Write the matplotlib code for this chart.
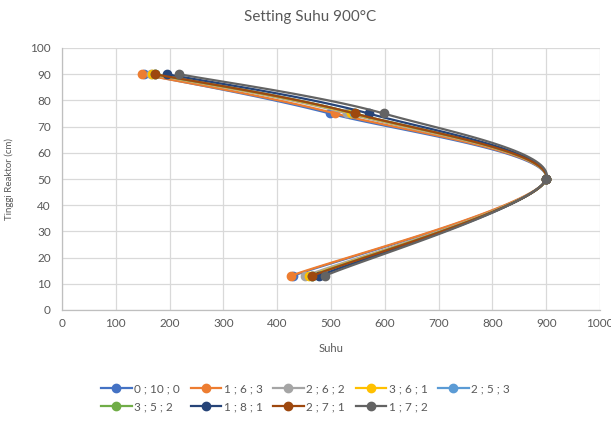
import numpy as np
import matplotlib.pyplot as plt

plt.rcParams['font.family'] = ['Lato', 'DejaVu Sans']

# komposisi (label legenda) dan warna tiap seri
komposisi = ['0 ; 10 ; 0', '1 ; 6 ; 3', '2 ; 6 ; 2', '3 ; 6 ; 1', '2 ; 5 ; 3',
             '3 ; 5 ; 2', '1 ; 8 ; 1', '2 ; 7 ; 1', '1 ; 7 ; 2']
warna = ['#4472C4', '#ED7D31', '#A5A5A5', '#FFC000', '#5B9BD5',
         '#70AD47', '#264478', '#9E480E', '#636363']

# tinggi titik ukur (cm)
tinggi = [90, 75, 50, 13]

# suhu (°C) di tiap titik ukur
suhu_0_10_0 = [152, 498, 900, 429]
suhu_1_6_3 = [148, 508, 900, 425]
suhu_2_6_2 = [165, 530, 900, 452]
suhu_3_6_1 = [168, 538, 900, 460]
suhu_2_5_3 = [172, 543, 900, 464]
suhu_3_5_2 = [173, 544, 900, 465]
suhu_1_8_1 = [195, 570, 900, 478]
suhu_2_7_1 = [173, 544, 900, 465]
suhu_1_7_2 = [218, 598, 900, 488]

semua_suhu = [suhu_0_10_0, suhu_1_6_3, suhu_2_6_2, suhu_3_6_1, suhu_2_5_3,
              suhu_3_5_2, suhu_1_8_1, suhu_2_7_1, suhu_1_7_2]


def garis_halus(x, y, n=40):
    # kurva bezier lewat tiap titik (seperti "smoothed line" di Excel)
    p = np.column_stack([x, y]).astype(float)
    q = np.vstack([p[0], p, p[-1]])
    t = np.linspace(0, 1, n)[1:, None]
    hasil = [p[0]]
    for i in range(1, len(q) - 2):
        a, b = q[i], q[i + 1]
        c1 = a + (q[i + 1] - q[i - 1]) / 6
        c2 = b - (q[i + 2] - q[i]) / 6
        seg = (1 - t)**3 * a + 3 * (1 - t)**2 * t * c1 + 3 * (1 - t) * t**2 * c2 + t**3 * b
        hasil.extend(seg)
    hasil = np.array(hasil)
    return hasil[:, 0], hasil[:, 1]


abu = '#595959'
fig = plt.figure(figsize=(6.11, 4.23), dpi=100)
ax = fig.add_axes([62 / 611, 1 - 310 / 423, 538 / 611, 262 / 423])

handles = []
for lbl, c, s in zip(komposisi, warna, semua_suhu):
    xs, ys = garis_halus(s, tinggi)
    ax.plot(xs, ys, color=c, linewidth=1.6, solid_capstyle='round')
    ax.plot(s, tinggi, 'o', color=c, markersize=6)
    h, = ax.plot([], [], color=c, linewidth=1.6, marker='o', markersize=6, label=lbl)
    handles.append(h)

ax.set_xlim(0, 1000)
ax.set_ylim(0, 100)
ax.set_xticks(range(0, 1001, 100))
ax.set_yticks(range(0, 101, 10))
ax.grid(color='#D9D9D9', linewidth=0.9)
ax.set_axisbelow(True)
for sp in ['top', 'right']:
    ax.spines[sp].set_visible(False)
for sp in ['left', 'bottom']:
    ax.spines[sp].set_color('#BFBFBF')
    ax.spines[sp].set_linewidth(0.9)
ax.tick_params(length=0, labelsize=8.5, labelcolor=abu, pad=6)
ax.tick_params(axis='y', pad=8)

ax.set_xlabel('Suhu', fontsize=8, color=abu, labelpad=10)
ax.set_ylabel('Tinggi Reaktor (cm)', fontsize=7, color=abu, labelpad=12)
fig.text(310 / 611, 1 - 17 / 423, 'Setting Suhu 900°C', ha='center', va='center',
         fontsize=11, color=abu)

# legenda 2 baris, diisi per baris
urutan = [0, 5, 1, 6, 2, 7, 3, 8, 4]
leg = fig.legend([handles[i] for i in urutan], [komposisi[i] for i in urutan],
                 ncol=5, loc='center', bbox_to_anchor=(0.5, 1 - 398 / 423),
                 frameon=False, fontsize=8.5, handlelength=2.6, handletextpad=0.2,
                 columnspacing=0.9, labelspacing=0.6)
for t in leg.get_texts():
    t.set_color(abu)

plt.savefig('out.png', dpi=100)
